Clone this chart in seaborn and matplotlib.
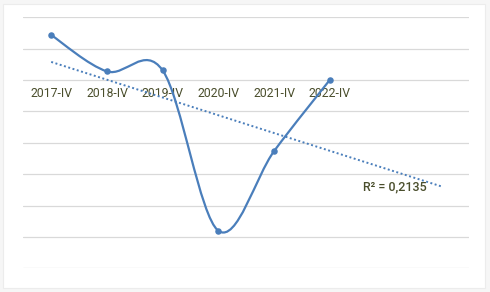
import numpy as np
import pandas as pd
import matplotlib
matplotlib.use("Agg")
import matplotlib.pyplot as plt
from matplotlib.path import Path
from matplotlib.patches import PathPatch, Rectangle
import seaborn as sns

# ---- data ----
categories = ["2017-IV", "2018-IV", "2019-IV", "2020-IV", "2021-IV", "2022-IV"]
values = [2.87, 0.55, 0.61, -9.61, -4.52, 0.02]
r2_label = "R² = 0,2135"
grid_values = [4, 2, 0, -2, -4, -6, -8, -10, -12]

sns.set_theme(style="white")
plt.rcParams["font.family"] = ["Roboto", "DejaVu Sans"]

LINE = "#4a7ebb"
TEXT = "#4a4e2c"
FS = 8.8

fig = plt.figure(figsize=(4.9, 2.92), dpi=100)
fig.patch.set_facecolor("#f6f6f6")
fig.add_artist(Rectangle((3 / 490, 4 / 292), 482 / 490, 284 / 292, transform=fig.transFigure,
                         facecolor="white", edgecolor="#ececec", linewidth=0.8, zorder=0))

ax = fig.add_axes([0.0476, 0.0812, 0.9102, 0.8596])
ax.set_facecolor("none")

df = pd.DataFrame({"cat": categories, "x": np.arange(1, len(categories) + 1), "y": values})

# horizontal gridlines
for g in grid_values:
    ax.axhline(g, color="#d9d9d9", linewidth=0.9, zorder=1)

# linear trendline, forecast forward 2 periods
slope, intercept = np.polyfit(df["x"], df["y"], 1)
tx = np.array([1, len(categories) + 2])
sns.lineplot(x=tx, y=slope * tx + intercept, ax=ax, color=LINE, linewidth=1.4,
             linestyle=(0, (1, 1.3)), zorder=2)

# smoothed line (Catmull-Rom style Bezier, as Excel's "smoothed line")
pts = df[["x", "y"]].to_numpy(dtype=float)
verts = [tuple(pts[0])]
codes = [Path.MOVETO]
n = len(pts)
for i in range(n - 1):
    p0 = pts[i - 1] if i > 0 else pts[i]
    p1 = pts[i]
    p2 = pts[i + 1]
    p3 = pts[i + 2] if i + 2 < n else pts[i + 1]
    c1 = p1 + (p2 - p0) / 6.0
    c2 = p2 - (p3 - p1) / 6.0
    verts += [tuple(c1), tuple(c2), tuple(p2)]
    codes += [Path.CURVE4] * 3
ax.add_patch(PathPatch(Path(verts, codes), facecolor="none", edgecolor=LINE,
                       linewidth=1.6, zorder=4, capstyle="round", joinstyle="round"))
sns.scatterplot(data=df, x="x", y="y", ax=ax, color=LINE, s=22, edgecolor=LINE,
                linewidth=0, zorder=5, legend=False)

ax.set_xlim(0.5, 8.5)
ax.set_ylim(grid_values[-1], grid_values[0])
ax.set_yticks([])
ax.set_xticks(df["x"].tolist())
ax.set_xticklabels(categories, fontweight="medium")
ax.spines["bottom"].set_position(("data", 0))
for s in ax.spines.values():
    s.set_visible(False)
ax.tick_params(axis="x", length=0, pad=5.3, labelsize=FS, labelcolor=TEXT)
ax.set_xlabel("")
ax.set_ylabel("")

ax.text(6.59, -6.8, r2_label, color=TEXT, fontsize=FS + 0.2, fontweight="medium",
        ha="left", va="center", zorder=3)

fig.savefig("out.png", dpi=100, facecolor=fig.get_facecolor())
